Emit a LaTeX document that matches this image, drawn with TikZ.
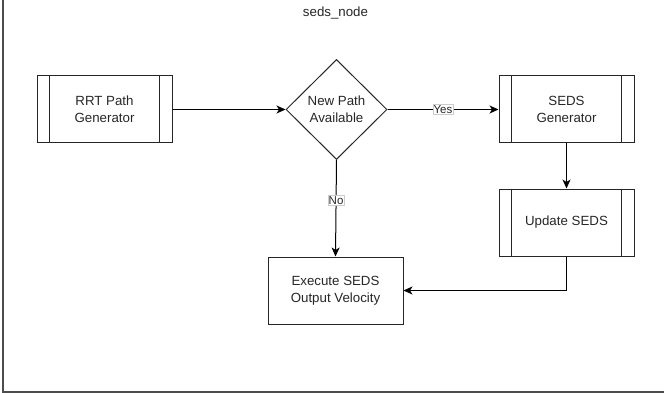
\documentclass[tikz,border=0pt]{standalone}
\usepackage{fontspec}
\setmainfont{Liberation Sans}
\usetikzlibrary{arrows.meta,shapes.geometric}

\tikzset{
  x=1pt, y=-1pt,
  every node/.style={font=\fontsize{13.3}{16.7}\selectfont, text=black!85},
  box/.style={draw=black!85, line width=1pt, minimum width=135pt, minimum height=67pt, align=center, inner sep=0pt},
  decision/.style={draw=black!85, line width=1pt, diamond, minimum width=101pt, minimum height=100pt, inner sep=0pt, align=center, aspect=1.01},
  flow/.style={draw=black, line width=1pt, -{Stealth[length=9pt,width=8pt,inset=2.5pt]}},
  edgelabel/.style={font=\fontsize{11.5}{12}\selectfont, fill=white, draw=black!20, line width=0.5pt, inner sep=0.8pt},
  frameline/.style={draw=black!70, line width=1.4pt}
}

\newcommand{\sidebars}[1]{%
  \draw[line width=1pt, black!85] ([xshift=13pt]#1.north west) -- ([xshift=13pt]#1.south west);
  \draw[line width=1pt, black!85] ([xshift=-13pt]#1.north east) -- ([xshift=-13pt]#1.south east);
}

\begin{document}
\begin{tikzpicture}
  \useasboundingbox (0,0) rectangle (664,393);

  % enclosing frame (left and bottom edges)
  \coordinate (ftop) at (3,0);
  \coordinate (fcorner) at (3,392);
  \coordinate (fright) at (664,392);
  \draw[frameline] (ftop) -- (fcorner) -- (fright);

  \node (title) at (335.5,13) {seds\_node};

  % process blocks
  \node[box] (rrt) at (104.5,109.5) {RRT Path\\Generator};
  \sidebars{rrt}
  \node[decision] (newpath) at (336.5,109.5) {New Path\\Available};
  \node[box] (sedsgen) at (566.5,109.5) {SEDS\\Generator};
  \sidebars{sedsgen}
  \node[box] (update) at (566.5,222.5) {Update SEDS};
  \sidebars{update}
  \node[box] (execute) at (335.5,290.5) {Execute SEDS\\Output Velocity};

  % connectors
  \draw[flow] (rrt.east) -- (newpath.west);
  \draw[flow] (newpath.east) -- node[edgelabel, pos=0.5] {Yes} (sedsgen.west);
  \draw[flow] (newpath.south) -- node[edgelabel, pos=0.42] {No} (execute.north);
  \draw[flow] (sedsgen.south) -- (update.north);
  \draw[flow] (update.south) |- (execute.east);
\end{tikzpicture}
\end{document}
